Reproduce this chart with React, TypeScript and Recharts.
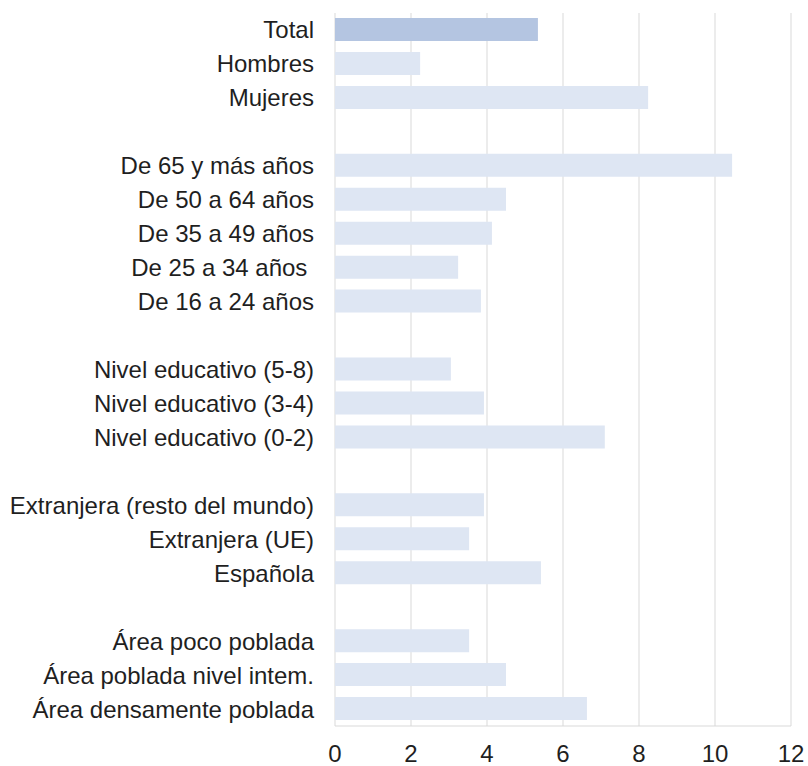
import React from "react";
import { BarChart, Bar, XAxis, YAxis, CartesianGrid, Cell } from "recharts";

// blank entries are the gaps between groups
const categories = [
  "Total",
  "Hombres",
  "Mujeres",
  "",
  "De 65 y más años",
  "De 50 a 64 años",
  "De 35 a 49 años",
  "De 25 a 34 años\u00a0",
  "De 16 a 24 años",
  "",
  "Nivel educativo (5-8)",
  "Nivel educativo (3-4)",
  "Nivel educativo (0-2)",
  "",
  "Extranjera (resto del mundo)",
  "Extranjera (UE)",
  "Española",
  "",
  "Área poco poblada",
  "Área poblada nivel intem.",
  "Área densamente poblada",
];

const values = [
  5.34, 2.24, 8.24, null,
  10.45, 4.5, 4.13, 3.24, 3.84, null,
  3.05, 3.92, 7.1, null,
  3.92, 3.53, 5.42, null,
  3.53, 4.5, 6.63,
];

const xTicks = [0, 2, 4, 6, 8, 10, 12];

const data = categories.map((label, i) => ({
  key: `c${i}`,
  label,
  value: values[i],
}));

const labelFor = (key: string) => data.find((d) => d.key === key)?.label ?? "";

const App = () => {
  return (
    <div
      style={{
        position: "absolute",
        left: 0,
        top: 0,
        background: "#fff",
        fontFamily: "'Liberation Sans', Arial, sans-serif",
      }}
    >
      <BarChart
        width={808}
        height={766}
        data={data}
        layout="vertical"
        margin={{ top: 13, right: 17, left: 0, bottom: 10 }}
        barSize={23}
      >
        <CartesianGrid horizontal={false} stroke="#d9d9d9" />
        <XAxis
          type="number"
          domain={[0, 12]}
          ticks={xTicks}
          interval={0}
          height={30}
          axisLine={{ stroke: "#d9d9d9" }}
          tickLine={false}
          tickSize={0}
          tickMargin={19}
          tick={{ fill: "#1f1f1f", fontSize: 24 }}
        />
        <YAxis
          type="category"
          dataKey="key"
          width={335}
          interval={0}
          axisLine={false}
          tickLine={false}
          tickSize={0}
          tickMargin={21}
          tickFormatter={labelFor}
          tick={{ fill: "#1f1f1f", fontSize: 24 }}
        />
        <Bar dataKey="value" isAnimationActive={false}>
          {data.map((d, i) => (
            <Cell key={d.key} fill={i === 0 ? "#b4c5e1" : "#dee6f3"} />
          ))}
        </Bar>
      </BarChart>
    </div>
  );
};

export default App;
